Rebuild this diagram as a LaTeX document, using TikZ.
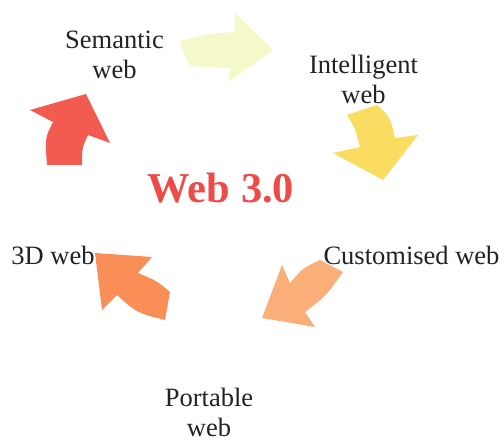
\documentclass[tikz,border=0pt]{standalone}
\usepackage{fontspec}
\setmainfont{Liberation Serif}
\definecolor{cA}{HTML}{F5F8C8}
\definecolor{cB}{HTML}{FADC60}
\definecolor{cC}{HTML}{FBAF78}
\definecolor{cD}{HTML}{F98F56}
\definecolor{cE}{HTML}{F35A50}
\definecolor{titlered}{HTML}{EE4A48}
\definecolor{txt}{HTML}{222222}
\tikzset{
  lbl/.style={font=\fontsize{26.5}{30}\selectfont, text=txt, align=center, anchor=base, inner sep=0pt}
}
\begin{document}
\begin{tikzpicture}[x=1pt,y=-1pt]
\useasboundingbox (0,0) rectangle (504,441);
% arrow 1 (top)
\fill[cA] (180,41) .. controls (208,34) .. (235,32) -- (235,13) -- (273,50) -- (228,82) -- (230,68) -- (190,66) .. controls (184,54) .. cycle;
% arrow 2 (right upper)
\fill[cB] (347,115) .. controls (355,128) .. (360,147) -- (333,153) -- (383,180) -- (418,135) -- (395,138) .. controls (390,117) .. (377,105) -- cycle;
% arrow 3 (right lower)
\fill[cC] (320,260) .. controls (303,268) .. (290,283) -- (282,265) -- (262,318) -- (315,327) -- (305,312) .. controls (326,296) .. (343,272) -- cycle;
% arrow 4 (left lower)
\fill[cD] (165,320) .. controls (137,313) .. (117,295) -- (102,310) -- (95,253) -- (152,257) -- (138,273) .. controls (157,281) .. (170,292) -- cycle;
% arrow 5 (left upper)
\fill[cE] (47,165) .. controls (45,138) .. (53,122) -- (30,110) -- (86,94) -- (110,143) -- (88,135) .. controls (82,148) .. (82,165) -- cycle;
% labels
\node[lbl] (sem) at (114.5,79) {Semantic\\web};
\node[lbl] (int) at (363.5,104) {Intelligent\\web};
\node[lbl] (cus) at (411.5,265) {Customised web};
\node[lbl] (por) at (209,436) {Portable\\web};
\node[lbl] (thd) at (53,265) {3D web};
\node[anchor=base, inner sep=0pt, font=\fontsize{42.5}{45}\selectfont\bfseries, text=titlered] (title) at (221,203) {Web 3.0};
\end{tikzpicture}
\end{document}
